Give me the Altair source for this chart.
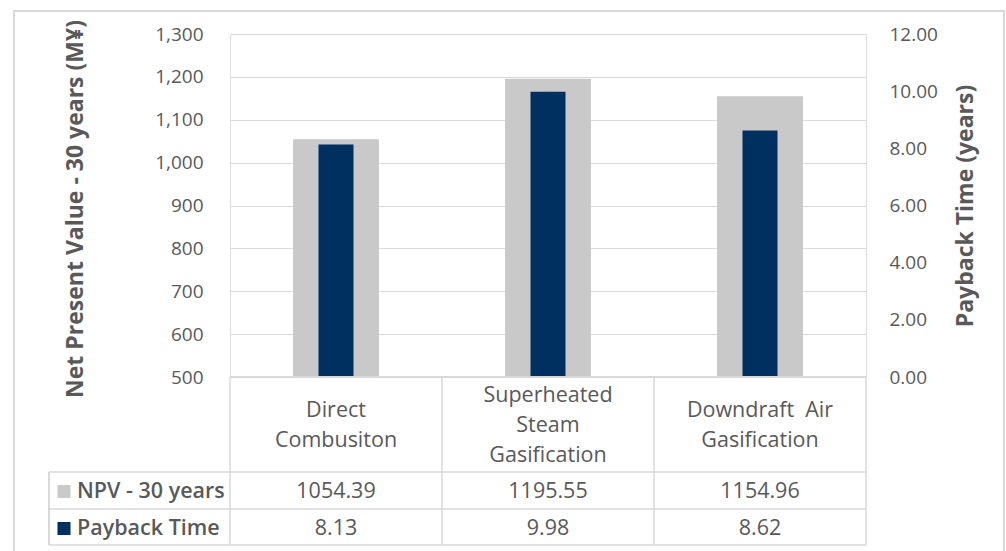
import altair as alt
import pandas as pd

# ---- data -------------------------------------------------------------
categories = ["Direct Combusiton", "Superheated Steam Gasification", "Downdraft Air Gasification"]
header_lines = [["Direct", "Combusiton"], ["Superheated", "Steam", "Gasification"], ["Downdraft\u00a0 Air", "Gasification"]]
npv_values = [1054.39, 1195.55, 1154.96]
payback_values = [8.13, 9.98, 8.62]
series_names = ["NPV - 30 years", "Payback Time"]
npv_ticks = [500, 600, 700, 800, 900, 1000, 1100, 1200, 1300]
payback_ticks = [0, 2, 4, 6, 8, 10, 12]

# ---- style ------------------------------------------------------------
FONT = "Open Sans"
TEXT = "#595959"
LINE = "#D9D9D9"
GREY = "#C9C9C9"
NAVY = "#00305F"

W, H = 636, 343            # plot area
HEADER_H, ROW_H = 95, 37   # data-table row heights
LEGEND_W = 181             # legend column left of the plot area
LINE_H = 30                # line height of the wrapped category names

df = pd.DataFrame({
    "cat": categories,
    "header": header_lines,
    "npv": npv_values,
    "payback": payback_values,
})
df["npv_base"] = npv_ticks[0]
df["payback_base"] = payback_ticks[0]
df["npv_label"] = [f"{v:.2f}" for v in npv_values]
df["payback_label"] = [f"{v:.2f}" for v in payback_values]
# first line of each wrapped name, so that the whole block sits centred in the header row
df["header_y"] = [H + HEADER_H / 2 + 1 - (len(h) - 1) * LINE_H / 2 for h in header_lines]

x_scale = alt.Scale(domain=categories, paddingInner=0, paddingOuter=0)
X = alt.X("cat:N", scale=x_scale, axis=None)

base = alt.Chart(df)

npv_bars = base.mark_bar(color=GREY, width=alt.RelativeBandSize(0.405)).encode(
    x=X,
    y=alt.Y(
        "npv:Q",
        scale=alt.Scale(domain=[npv_ticks[0], npv_ticks[-1]], nice=False, zero=False),
        axis=alt.Axis(
            values=npv_ticks, format=",.0f", grid=True, gridColor=LINE, gridWidth=1,
            domain=False, ticks=False, labelPadding=27, labelFontSize=19,
            labelFont=FONT, labelColor=TEXT,
            title="Net Present Value - 30 years (M\u00a5)", titleFont=FONT,
            titleFontSize=23, titleFontWeight="bold", titleColor=TEXT,
            titleAngle=270, titleAlign="center", titleBaseline="middle",
            titleX=-155, titleY=174.5,
        ),
    ),
    y2="npv_base:Q",
)

payback_bars = base.mark_bar(color=NAVY, width=alt.RelativeBandSize(0.165)).encode(
    x=X,
    y=alt.Y(
        "payback:Q",
        scale=alt.Scale(domain=[payback_ticks[0], payback_ticks[-1]], nice=False),
        axis=alt.Axis(
            orient="right", values=payback_ticks, format=".2f", grid=False,
            domain=False, ticks=False, labelPadding=23, labelFontSize=19,
            labelFont=FONT, labelColor=TEXT,
            title="Payback Time (years)", titleFont=FONT,
            titleFontSize=23, titleFontWeight="bold", titleColor=TEXT,
            titleAngle=270, titleAlign="center", titleBaseline="middle",
            titleX=99.5, titleY=171.5,
        ),
    ),
    y2="payback_base:Q",
)

# ---- data table under the plot ----------------------------------------
row1_top = H + HEADER_H
row2_top = row1_top + ROW_H
table_bottom = row2_top + ROW_H - 1

rule = dict(color=LINE, strokeWidth=1.5)

# horizontal lines
h_header = base.mark_rule(**rule).encode(
    x=alt.value(0), x2=alt.value("width"), y=alt.value(H))
h_rows = alt.Chart(pd.DataFrame({"yy": [row1_top, row2_top, table_bottom]})).mark_rule(**rule).encode(
    x=alt.value(-LEGEND_W), x2=alt.value("width"), y=alt.Y("yy:Q", scale=None))

# vertical lines at the category band edges
v_left = base.mark_rule(**rule).encode(
    x=alt.X("cat:N", scale=x_scale, axis=None, bandPosition=0),
    y=alt.value(H), y2=alt.value(table_bottom))
v_right = alt.Chart(df.tail(1)).mark_rule(**rule).encode(
    x=alt.X("cat:N", scale=x_scale, axis=None, bandPosition=1),
    y=alt.value(H), y2=alt.value(table_bottom))
v_legend = base.mark_rule(**rule).encode(
    x=alt.value(-LEGEND_W), y=alt.value(row1_top), y2=alt.value(table_bottom))

text_style = dict(font=FONT, fontSize=21.5, color=TEXT, align="center", baseline="middle")

header_text = base.mark_text(lineHeight=LINE_H, **text_style).encode(
    x=X, y=alt.Y("header_y:Q", scale=None), text="header")
npv_text = base.mark_text(**text_style).encode(
    x=X, y=alt.value(row1_top + ROW_H / 2 + 1), text="npv_label:N")
payback_text = base.mark_text(**text_style).encode(
    x=X, y=alt.value(row2_top + ROW_H / 2 + 1), text="payback_label:N")

legend_df = pd.DataFrame({
    "series": series_names,
    "yy": [row1_top + ROW_H / 2 + 1, row2_top + ROW_H / 2 + 1],
})
color_scale = alt.Scale(domain=series_names, range=[GREY, NAVY])
legend_keys = alt.Chart(legend_df).mark_square(size=170, opacity=1, filled=True).encode(
    x=alt.value(-LEGEND_W + 15), y=alt.Y("yy:Q", scale=None),
    color=alt.Color("series:N", scale=color_scale, legend=None))
legend_text = alt.Chart(legend_df).mark_text(
    font=FONT, fontSize=21.5, fontWeight=600, color=TEXT, align="left", baseline="middle"
).encode(x=alt.value(-LEGEND_W + 28), y=alt.Y("yy:Q", scale=None), text="series:N")

# outer frame
frame = base.mark_rect(fill=None, stroke=LINE, strokeWidth=2).encode(
    x=alt.value(-216), x2=alt.value(774), y=alt.value(-23), y2=alt.value(540))

chart = alt.layer(
    frame, npv_bars, payback_bars,
    h_header, h_rows, v_left, v_right, v_legend,
    header_text, npv_text, payback_text, legend_keys, legend_text,
).resolve_scale(y="independent").properties(
    width=W, height=H,
    autosize=alt.AutoSizeParams(type="none"),
    padding={"left": 230, "top": 34, "right": 140, "bottom": 174},
).configure_view(stroke=None).configure(background="white")

chart.save("out.html", embed_options={"renderer": "svg", "actions": False})
